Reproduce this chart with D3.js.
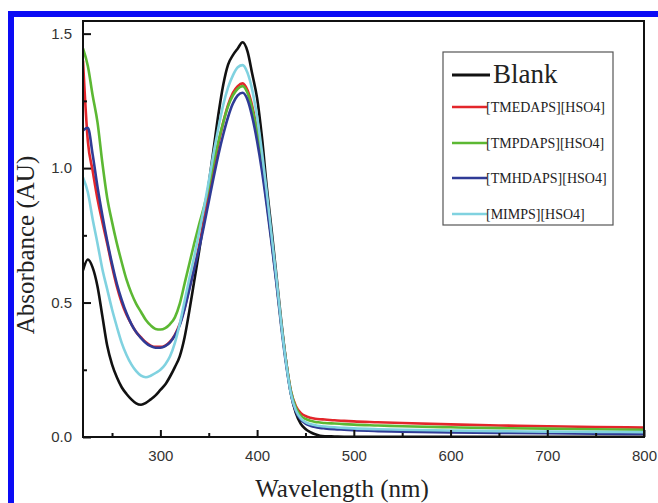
<!DOCTYPE html>
<html>
<head>
<meta charset="utf-8">
<script src="https://cdn.jsdelivr.net/npm/d3@7"></script>
<style>
  body { margin: 0; background: #fff; }
  svg { display: block; }
</style>
</head>
<body>
<div class="chart"></div>
<script>
// wavelength (nm)
let wavelengths = [220,225,230,235,240,245,250,255,260,265,270,275,280,285,290,295,300,305,310,315,
  320,325,330,335,340,345,350,355,360,365,370,375,380,385,390,395,400,405,410,415,
  420,425,430,435,440,445,450,455,460,465,470,480,490,500,525,550,600,650,700,750,800];

let blank = [0.62,0.66,0.63,0.56,0.45,0.34,0.27,0.222,0.185,0.16,0.14,0.125,0.12,0.127,0.14,0.155,0.175,0.195,0.225,0.26,
  0.30,0.37,0.47,0.58,0.69,0.81,0.94,1.07,1.20,1.31,1.385,1.42,1.445,1.468,1.435,1.35,1.26,1.115,0.93,0.77,
  0.60,0.43,0.28,0.16,0.09,0.05,0.03,0.018,0.01,0.005,0.003,0.002,0.001,0.001,0.001,0.001,0.001,0.001,0.001,0.001,0.001];

let tmedaps = [1.40,1.10,0.99,0.885,0.80,0.72,0.635,0.56,0.50,0.455,0.42,0.39,0.37,0.352,0.34,0.335,0.335,0.34,0.355,0.38,
  0.42,0.48,0.555,0.63,0.71,0.80,0.90,1.00,1.09,1.17,1.235,1.28,1.305,1.315,1.29,1.23,1.14,1.02,0.88,0.73,
  0.58,0.42,0.28,0.17,0.115,0.09,0.078,0.072,0.068,0.066,0.065,0.062,0.06,0.058,0.055,0.052,0.047,0.043,0.040,0.037,0.035];

let tmpdaps = [1.445,1.38,1.27,1.17,1.02,0.89,0.80,0.72,0.65,0.585,0.535,0.495,0.465,0.435,0.415,0.402,0.40,0.405,0.42,0.445,
  0.495,0.57,0.645,0.72,0.79,0.855,0.93,1.02,1.10,1.17,1.23,1.27,1.295,1.305,1.28,1.22,1.13,1.01,0.875,0.73,
  0.58,0.42,0.28,0.17,0.11,0.08,0.067,0.06,0.056,0.054,0.052,0.05,0.048,0.046,0.043,0.04,0.036,0.033,0.031,0.029,0.027];

let tmhdaps = [1.14,1.15,1.05,0.93,0.825,0.73,0.645,0.57,0.51,0.46,0.42,0.39,0.368,0.35,0.338,0.332,0.332,0.338,0.352,0.378,
  0.415,0.475,0.55,0.625,0.70,0.785,0.875,0.965,1.05,1.125,1.19,1.24,1.27,1.28,1.255,1.19,1.10,0.99,0.86,0.72,
  0.57,0.41,0.27,0.16,0.095,0.065,0.05,0.042,0.037,0.034,0.032,0.029,0.027,0.025,0.022,0.02,0.017,0.015,0.014,0.012,0.011];

let mimps = [0.965,0.91,0.81,0.72,0.625,0.55,0.475,0.41,0.35,0.305,0.27,0.245,0.228,0.222,0.228,0.238,0.25,0.27,0.30,0.35,
  0.42,0.505,0.59,0.67,0.76,0.85,0.95,1.055,1.15,1.235,1.30,1.345,1.375,1.383,1.355,1.29,1.19,1.06,0.91,0.75,
  0.59,0.42,0.275,0.16,0.10,0.07,0.055,0.048,0.044,0.041,0.039,0.036,0.034,0.032,0.029,0.027,0.024,0.022,0.02,0.019,0.018];

let seriesNames = ['Blank', '[TMEDAPS][HSO4]', '[TMPDAPS][HSO4]', '[TMHDAPS][HSO4]', '[MIMPS][HSO4]'];
let seriesValues = [blank, tmedaps, tmpdaps, tmhdaps, mimps];
let seriesColors = ['#111111', '#e3262b', '#5cb833', '#2f3b96', '#80d2e0'];

let xTicks = [300, 400, 500, 600, 700, 800];
let yTicks = [0.0, 0.5, 1.0, 1.5];

let W = 658, H = 503;
let margin = { top: 21, right: 14, bottom: 66, left: 83 };
let width = W - margin.left - margin.right;
let height = H - margin.top - margin.bottom;

let svg = d3.select('.chart')
  .append('svg')
    .attr('width', W)
    .attr('height', H);

svg.append('rect').attr('width', W).attr('height', H).attr('fill', '#fff');

// blue border of the figure
svg.append('rect').attr('x', 8).attr('y', 11).attr('width', W - 8).attr('height', 6).attr('fill', '#0b0bf5');
svg.append('rect').attr('x', 8).attr('y', 11).attr('width', 6).attr('height', H - 11).attr('fill', '#0b0bf5');

let g = svg.append('g')
  .attr('transform', `translate(${margin.left}, ${margin.top})`);

let xScale = d3.scaleLinear().domain([220, 800]).range([0, width]);
let yScale = d3.scaleLinear().domain([0, 1.547]).range([height, 0]);

g.append('clipPath').attr('id', 'clip')
  .append('rect').attr('width', width).attr('height', height);

let line = d3.line()
  .x((d, i) => xScale(wavelengths[i]))
  .y(d => yScale(d))
  .curve(d3.curveMonotoneX);

g.append('g')
  .attr('clip-path', 'url(#clip)')
  .selectAll('path')
  .data(seriesValues)
  .join('path')
    .attr('d', d => line(d))
    .attr('fill', 'none')
    .attr('stroke', (d, i) => seriesColors[i])
    .attr('stroke-width', 2.6)
    .attr('stroke-linejoin', 'round');

// axes: ticks point inward
let xAxis = d3.axisBottom(xScale).tickValues(xTicks).tickSizeInner(-7).tickSizeOuter(0).tickPadding(13)
  .tickFormat(d3.format('d'));
let xMinor = d3.axisBottom(xScale).tickValues([250, 350, 450, 550, 650, 750]).tickSize(-4).tickFormat('');
let yAxis = d3.axisLeft(yScale).tickValues(yTicks).tickSizeInner(-8).tickSizeOuter(0).tickPadding(11)
  .tickFormat(d3.format('.1f'));
let yMinor = d3.axisLeft(yScale).tickValues([0.25, 0.75, 1.25]).tickSize(-4).tickFormat('');

g.append('g').attr('transform', `translate(0, ${height})`).call(xAxis);
g.append('g').attr('transform', `translate(0, ${height})`).call(xMinor);
g.append('g').call(yAxis);
g.append('g').call(yMinor);

g.selectAll('.domain').remove();
g.selectAll('.tick line').attr('stroke', '#111').attr('stroke-width', 2);
g.selectAll('.tick text')
  .attr('font-family', 'Liberation Sans, Arial, sans-serif')
  .attr('font-size', 15)
  .attr('fill', '#333');

// frame
g.append('rect')
  .attr('width', width)
  .attr('height', height)
  .attr('fill', 'none')
  .attr('stroke', '#111')
  .attr('stroke-width', 2);

// axis titles
svg.append('text')
  .attr('x', 342)
  .attr('y', 497)
  .attr('text-anchor', 'middle')
  .attr('font-family', 'Liberation Serif, Times New Roman, serif')
  .attr('font-size', 25)
  .attr('fill', '#222')
  .text('Wavelength (nm)');

svg.append('text')
  .attr('transform', 'translate(34, 245) rotate(-90)')
  .attr('text-anchor', 'middle')
  .attr('font-family', 'Liberation Serif, Times New Roman, serif')
  .attr('font-size', 25)
  .attr('fill', '#222')
  .text('Absorbance (AU)');

// legend
let legend = svg.append('g').attr('transform', 'translate(443, 52)');
legend.append('rect')
  .attr('width', 170)
  .attr('height', 173)
  .attr('fill', '#fff')
  .attr('stroke', '#555')
  .attr('stroke-width', 1.2);

let rowY = [23, 55, 91, 126, 162];
seriesNames.forEach((name, i) => {
  let row = legend.append('g').attr('transform', `translate(0, ${rowY[i]})`);
  row.append('line')
    .attr('x1', 9).attr('x2', i === 0 ? 47 : 44)
    .attr('stroke', seriesColors[i])
    .attr('stroke-width', i === 0 ? 3 : 2.6);
  row.append('text')
    .attr('x', i === 0 ? 50 : 43)
    .attr('y', i === 0 ? 8 : 5)
    .attr('font-family', 'Liberation Serif, Times New Roman, serif')
    .attr('font-size', i === 0 ? 27 : 14)
    .attr('fill', '#222')
    .text(name);
});
</script>
</body>
</html>
